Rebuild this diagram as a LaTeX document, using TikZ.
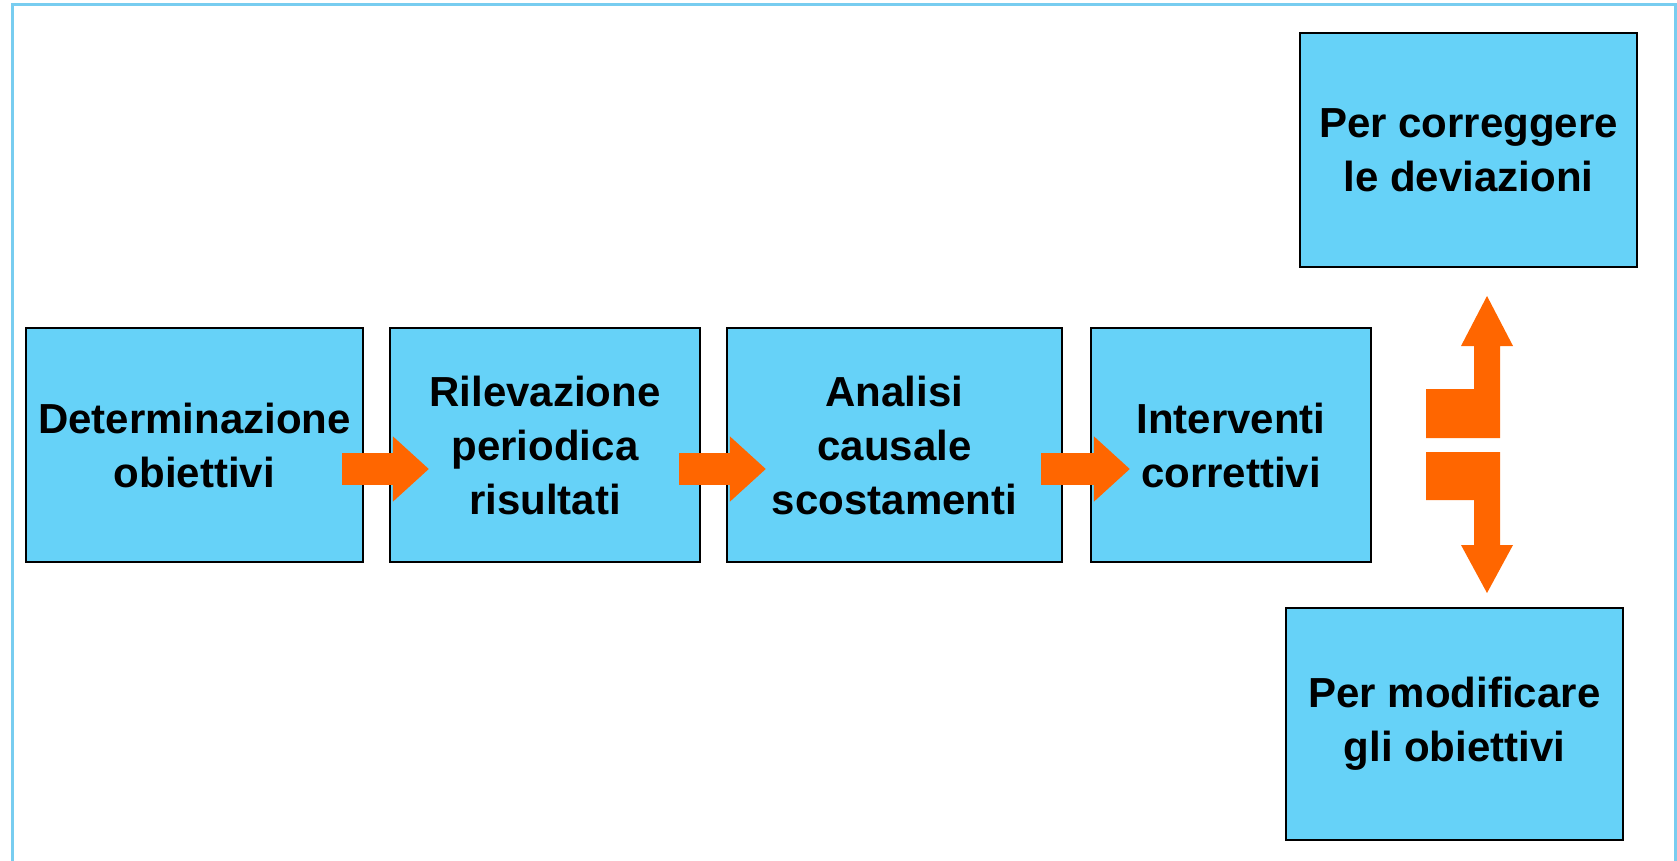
\documentclass[tikz,border=0pt]{standalone}
\usepackage{fontspec}
\setmainfont{Liberation Sans}
\usetikzlibrary{arrows.meta,calc}
\definecolor{boxblue}{RGB}{102,210,248}
\definecolor{arroworange}{RGB}{255,102,0}
\definecolor{frameblue}{RGB}{120,205,240}
\begin{document}
\begin{tikzpicture}[x=1pt,y=-1pt,
  stepbox/.style={draw=black, line width=2.2pt, fill=boxblue, inner sep=0pt,
    align=center, font=\bfseries\fontsize{42}{54}\selectfont,
    minimum height=234pt},
  harrow/.style={draw=arroworange, line width=32pt,
    -{Triangle[width=63pt,length=36pt]}},
  framestyle/.style={draw=frameblue, line width=3pt}]
\useasboundingbox (0,0) rectangle (1677,861);
\draw[framestyle] (12,861) -- (12,5) -- (1675,5) -- (1675,861);
\node[stepbox, minimum width=337pt] (b1) at (194.5,445) {Determinazione\\obiettivi};
\node[stepbox, minimum width=310pt] (b2) at (545,445) {Rilevazione\\periodica\\risultati};
\node[stepbox, minimum width=335pt] (b3) at (894.5,445) {Analisi\\causale\\scostamenti};
\node[stepbox, minimum width=280pt] (b4) at (1231,445) {Interventi\\correttivi};
\node[stepbox, minimum width=337pt] (t) at (1468.5,150) {Per correggere\\le deviazioni};
\node[stepbox, minimum width=337pt, minimum height=232pt] (m) at (1454.5,724) {Per modificare\\gli obiettivi};
\draw[harrow] ($(b1.east)+(-22,24)$) -- ($(b2.west)+(40,24)$);
\draw[harrow] ($(b2.east)+(-22,24)$) -- ($(b3.west)+(40,24)$);
\draw[harrow] ($(b3.east)+(-22,24)$) -- ($(b4.west)+(40,24)$);
\fill[arroworange] (1426,438) -- (1426,389) -- (1474,389) -- (1474,346) -- (1461,346)
  -- (1487,296) -- (1513,346) -- (1500,346) -- (1500,438) -- cycle;
\fill[arroworange] (1426,452) -- (1500,452) -- (1500,545) -- (1513,545) -- (1487,593)
  -- (1461,545) -- (1474,545) -- (1474,500) -- (1426,500) -- cycle;
\end{tikzpicture}
\end{document}
